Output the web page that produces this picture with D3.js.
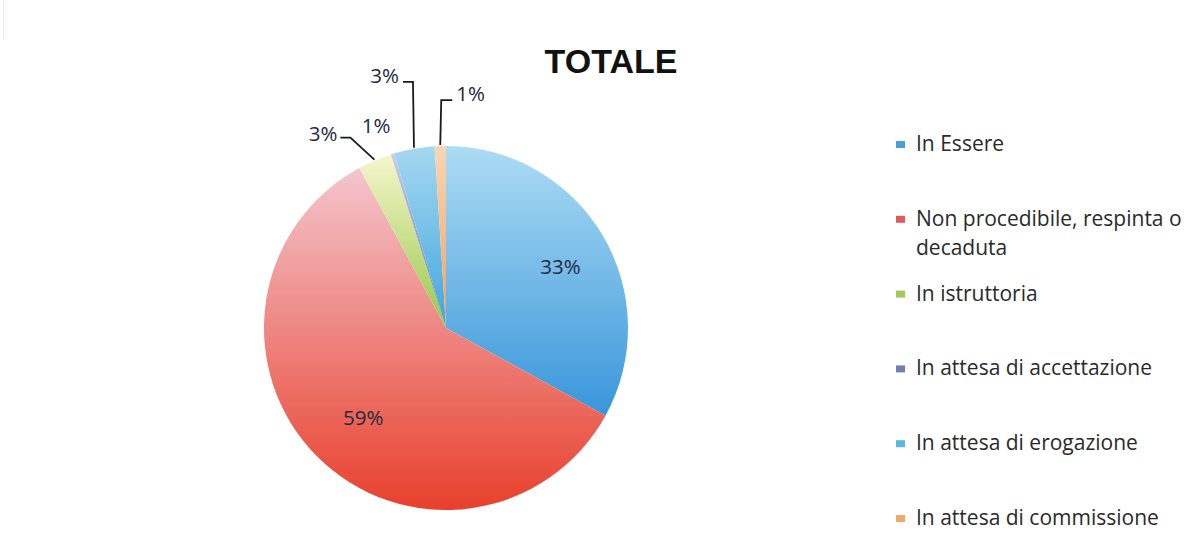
<!DOCTYPE html>
<html>
<head>
<meta charset="utf-8">
<script src="https://cdn.jsdelivr.net/npm/d3@7"></script>
<style>
  html, body { margin: 0; padding: 0; background: #ffffff; }
  svg { display: block; }
</style>
</head>
<body>
<svg id="chart" width="1204" height="560"></svg>
<script>
// ---- data ----
const title = "TOTALE";
const categories = [
  "In Essere",
  "Non procedibile, respinta o decaduta",
  "In istruttoria",
  "In attesa di accettazione",
  "In attesa di erogazione",
  "In attesa di commissione"
];
const values = [33.0, 59.1, 3.0, 0.3, 3.6, 1.0];
const valueLabels = ["33%", "59%", "3%", "1%", "3%", "1%"];
const legendLines = [
  ["In Essere"],
  ["Non procedibile, respinta o", "decaduta"],
  ["In istruttoria"],
  ["In attesa di accettazione"],
  ["In attesa di erogazione"],
  ["In attesa di commissione"]
];

// ---- styles ----
const gradTop    = ["#addcf4", "#f4c6ce", "#f6f6cc", "#c8cdea", "#a6d8f1", "#f9d6b4"];
const gradBottom = ["#3896da", "#e8402c", "#98c84a", "#5f6fb0", "#3fa6de", "#f0a060"];
const legendColors = ["#4a9fd8", "#e05a5a", "#a6c85a", "#7080b4", "#58b8e2", "#f0aa68"];
const textFont = "'Open Sans', Lato, sans-serif";
const labelColor = "#222a3f";
const fs = 20.5;
const legendFs = 21;

const svg = d3.select("#chart");
const W = 1204, H = 560;

// faint chart edge
svg.append("line").attr("x1", 3.5).attr("x2", 3.5).attr("y1", 0).attr("y2", 40)
  .attr("stroke", "#ececec").attr("stroke-width", 1);

// title
svg.append("text")
  .attr("x", 611).attr("y", 73)
  .attr("text-anchor", "middle")
  .attr("font-family", "'Liberation Sans', Arial, sans-serif")
  .attr("font-weight", "bold")
  .attr("font-size", 34)
  .attr("fill", "#111")
  .text(title);

// gradients
const defs = svg.append("defs");
categories.forEach((c, i) => {
  const g = defs.append("linearGradient").attr("id", "g" + i)
    .attr("x1", 0).attr("y1", 0).attr("x2", 0).attr("y2", 1);
  g.append("stop").attr("offset", "0%").attr("stop-color", gradTop[i]);
  g.append("stop").attr("offset", "100%").attr("stop-color", gradBottom[i]);
});

// pie
const cx = 446, cy = 328, r = 182;
const pie = d3.pie().sort(null).value(d => d);
const arcs = pie(values);
const arc = d3.arc().innerRadius(0).outerRadius(r);
const gPie = svg.append("g").attr("transform", `translate(${cx},${cy})`);

gPie.selectAll("path.slice").data(arcs).enter().append("path")
  .attr("class", "slice")
  .attr("d", arc)
  .attr("fill", (d, i) => `url(#g${i})`)
  .attr("stroke", "none");

const pt = (a, rad) => [Math.sin(a) * rad, -Math.cos(a) * rad];
const mid = d => (d.startAngle + d.endAngle) / 2;

// inside labels for big slices
const labelArc = d3.arc().innerRadius(r * 0.68).outerRadius(r * 0.68);
[0, 1].forEach(i => {
  const d = arcs[i];
  const [x, y] = labelArc.centroid(d);
  gPie.append("text")
    .attr("x", x + (i === 0 ? 8 : 5)).attr("y", y + (i === 0 ? 1 : 2))
    .attr("text-anchor", "middle").attr("dominant-baseline", "central")
    .attr("font-family", textFont).attr("font-size", fs)
    .attr("fill", labelColor)
    .text(valueLabels[i]);
});

// outside labels with leader lines
const lineColor = "#1a1a1a";
function label(i, x, y, anchor) {
  gPie.append("text")
    .attr("x", x).attr("y", y)
    .attr("text-anchor", anchor).attr("dominant-baseline", "central")
    .attr("font-family", textFont).attr("font-size", fs)
    .attr("fill", labelColor)
    .text(valueLabels[i]);
}
function leader(points) {
  gPie.append("path")
    .attr("d", d3.line()(points))
    .attr("fill", "none").attr("stroke", lineColor).attr("stroke-width", 1.8);
}

{
  const i = 2, [x0, y0] = pt(mid(arcs[i]), r + 1);
  const e = [x0 - 24, y0 - 22];
  const h = [e[0] - 10, e[1]];
  leader([[x0, y0], e, h]);
  label(i, h[0] - 3, h[1] - 5, "end");
}
{
  const i = 3, [x0, y0] = pt(mid(arcs[i]), r + 1);
  label(i, x0 - 16, y0 - 28, "middle");
}
{
  const i = 4, [x0, y0] = pt(mid(arcs[i]), r + 1);
  const e = [x0 - 1, y0 - 66];
  const h = [e[0] - 10, e[1]];
  leader([[x0, y0], e, h]);
  label(i, h[0] - 4, h[1] - 7, "end");
}
{
  const i = 5, [x0, y0] = pt(mid(arcs[i]), r + 1);
  const e = [x0 + 1, y0 - 45];
  const h = [e[0] + 11, e[1]];
  leader([[x0, y0], e, h]);
  label(i, h[0] + 4, h[1] - 7, "start");
}

// legend
const legendY = d3.scalePoint().domain(d3.range(categories.length)).range([143, 517]);
const gLeg = svg.append("g");
categories.forEach((c, i) => {
  const y = legendY(i);
  gLeg.append("rect")
    .attr("x", 896).attr("y", y - 2).attr("width", 9).attr("height", 7)
    .attr("fill", legendColors[i]);
  legendLines[i].forEach((line, k) => {
    gLeg.append("text")
      .attr("x", 916).attr("y", y + k * 29)
      .attr("dominant-baseline", "central")
      .attr("font-family", textFont).attr("font-size", legendFs)
      .attr("fill", "#2a2a2a")
      .text(line);
  });
});
</script>
</body>
</html>
